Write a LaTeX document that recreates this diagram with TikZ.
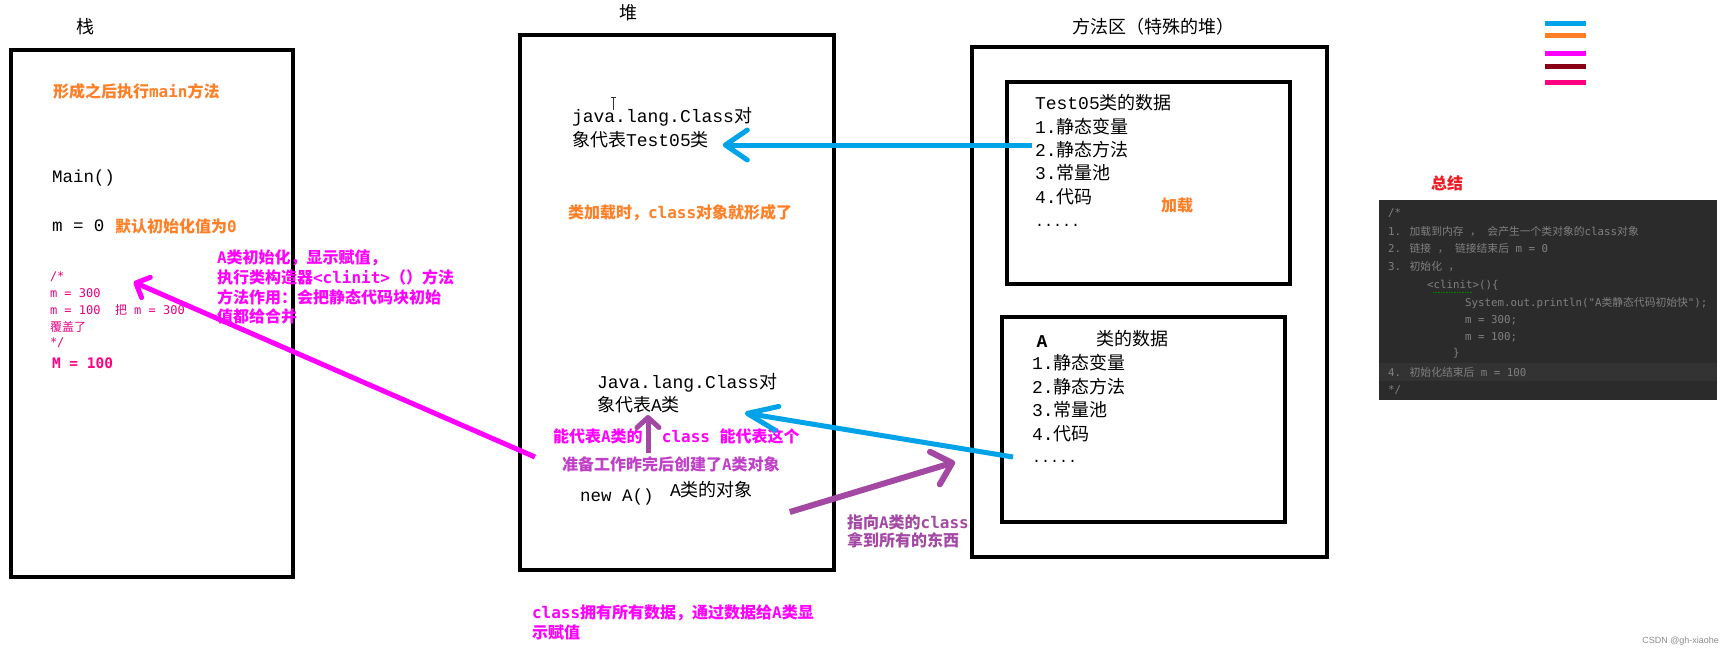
\documentclass[tikz,border=0pt]{standalone}
\usepackage{fontspec}
\usetikzlibrary{arrows.meta,calc}
\setmainfont{Liberation Mono}
\newfontfamily\cjkfont{Noto Sans CJK SC}
\newfontfamily\dvm{DejaVu Sans Mono}
\newfontfamily\lsans{Liberation Sans}
% automatic switch to the CJK font for CJK characters
\newXeTeXintercharclass\CJKcls
\newcount\cjkcc
\def\setcjkcls#1#2{\cjkcc=#1\relax\loop\XeTeXcharclass\cjkcc=\CJKcls\relax\ifnum\cjkcc<#2\relax\advance\cjkcc by 1\relax\repeat}
\setcjkcls{"3000}{"303F}
\setcjkcls{"4E00}{"9FFF}
\setcjkcls{"FF00}{"FFEF}
\XeTeXinterchartoks 0 \CJKcls = {\begingroup\cjkfont}
\XeTeXinterchartoks 4095 \CJKcls = {\begingroup\cjkfont}
\XeTeXinterchartoks \CJKcls 0 = {\endgroup}
\XeTeXinterchartoks \CJKcls 4095 = {\endgroup}
\XeTeXinterchartokenstate=1
\definecolor{cblue}{HTML}{00A2E8}
\definecolor{corange}{HTML}{FF7F27}
\definecolor{cmag}{HTML}{FF00FF}
\definecolor{cpink}{HTML}{E8007F}
\definecolor{cpinkb}{HTML}{FF0080}
\definecolor{cdred}{HTML}{880015}
\definecolor{cpurple}{HTML}{A349A4}
\definecolor{cviolet}{HTML}{C040C8}
\definecolor{cred}{HTML}{ED1C24}
\definecolor{ccode}{HTML}{808080}
\definecolor{ccodebg}{HTML}{2B2B2B}
\definecolor{ccodehl}{HTML}{333333}
\tikzset{
  box/.style={draw=black, line width=4pt},
  tx/.style={anchor=west, inner sep=0pt, outer sep=0pt},
  bk/.style={tx, font=\fontsize{18}{22}\selectfont},
  bkm/.style={tx, font=\fontsize{17.5}{21}\selectfont},
  cb/.style={tx, font=\dvm\bfseries\fontsize{16}{19}\selectfont},
  orangetxt/.style={cb, text=corange},
  magtxt/.style={cb, text=cmag},
  viotxt/.style={cb, text=cviolet},
  purtxt/.style={cb, text=cpurple},
  pk/.style={tx, text=cpink, font=\dvm\fontsize{12}{14}\selectfont},
  codetxt/.style={tx, text=ccode, font=\dvm\fontsize{10.8}{12}\selectfont},
  legendline/.style={line width=5pt},
}
\begin{document}
\begin{tikzpicture}[x=1pt,y=-1pt]
\useasboundingbox[fill=white] (0,0) rectangle (1733,659);

% ---------- stack ----------
\node[bk, anchor=center] (zhan) at (85,27) {栈};
\draw[box] (11,50) rectangle (293,577);
\node[orangetxt] (o1) at (53,91) {形成之后执行main方法};
\node[bkm] (mainf) at (52,178) {Main()};
\node[bkm] (m0) at (52,226) {m = 0};
\node[orangetxt] (o2) at (115,226) {默认初始化值为0};
\node[pk] (c1) at (50,277) {/*};
\node[pk] (c2) at (50,293) {m = 300};
\node[pk] (c3) at (50,310) {m = 100\ \ 把 m = 300};
\node[pk] (c4) at (50,327) {覆盖了};
\node[pk] (c5) at (50,343) {*/};
\node[tx, text=cpinkb, font=\dvm\bfseries\fontsize{14.5}{17}\selectfont] (c6) at (52,363) {M = 100};

\node[magtxt] (g1) at (217,258) {A类初始化，显示赋值，};
\node[magtxt] (g2) at (217,277.5) {执行类构造器<clinit>（）方法};
\node[magtxt] (g3) at (217,297) {方法作用：会把静态代码块初始};
\node[magtxt] (g4) at (217,316.5) {值都给合并};

% ---------- heap ----------
\node[bk, anchor=center] (dui) at (628,13) {堆};
\draw[box] (520,35) rectangle (834,570);
\draw[line width=0.8pt, black!80] (613,97) -- (613,110) (610.5,97) -- (615.5,97);
\node[bk] (ja1) at (572,117) {java.lang.Class对};
\node[bk] (ja2) at (572,140) {象代表Test05类};
\node[orangetxt] (o3) at (568,213) {类加载时，class对象就形成了};
\node[bk] (ja3) at (597,383) {Java.lang.Class对};
\node[bk] (ja4) at (597,405) {象代表A类};
\node[magtxt] (nd) at (553,436) {能代表A类的\ \ class 能代表这个};
\node[viotxt] (pr) at (562,464) {准备工作昨完后创建了A类对象};
\node[bkm] (newa) at (580,497) {new A()};
\node[bk] (obj) at (670,490) {A类的对象};
\node[magtxt] (b1) at (532,613) {class拥有所有数据，通过数据给A类显};
\node[magtxt] (b2) at (532,632) {示赋值};

% ---------- method area ----------
\node[bk] (ffq) at (1072,27) {方法区（特殊的堆）};
\draw[box] (972,47) rectangle (1327,557);
\draw[box] (1007,82) rectangle (1290,284);
\node[bk] (t1) at (1035,103) {Test05类的数据};
\node[bk] (t2) at (1035,127) {1.静态变量};
\node[bk] (t3) at (1035,150) {2.静态方法};
\node[bk] (t4) at (1035,173) {3.常量池};
\node[bk] (t5) at (1035,197) {4.代码};
\node[tx, font=\fontsize{15}{18}\selectfont] (t6) at (1035,225) {.....};
\node[orangetxt] (jz) at (1161,206) {加载};

\draw[box] (1002,317) rectangle (1285,522);
\node[bk, anchor=center, font=\bfseries\fontsize{18}{22}\selectfont] (aa) at (1042,342) {A};
\node[bk] (a0) at (1096,339) {类的数据};
\node[bk] (a1) at (1032,363) {1.静态变量};
\node[bk] (a2) at (1032,387) {2.静态方法};
\node[bk] (a3) at (1032,410) {3.常量池};
\node[bk] (a4) at (1032,434) {4.代码};
\node[tx, font=\fontsize{15}{18}\selectfont] (a5) at (1032,461) {.....};

\node[purtxt] (zx1) at (847,522) {指向A类的class};
\node[purtxt] (zx2) at (847,540) {拿到所有的东西};

% ---------- arrows ----------
\draw[cblue, line width=5pt, -{Straight Barb[length=22pt,width=30pt,round]}]
  ($(t3.west)+(-3,-5)$) -- ($(ja2.east)+(14,5)$);
\draw[cblue, line width=5pt, -{Straight Barb[length=30pt,width=24pt,round]}]
  ($(a5.west)+(-19,-4)$) -- ($(ja4.east)+(65,8)$);
\draw[cmag, line width=5pt, -{Straight Barb[length=11pt,width=22pt,round]}]
  ($(pr.west)+(-27,-7)$) -- ($(c2.east)+(33,-11)$);
\draw[cpurple, line width=5pt, -{Straight Barb[length=10pt,width=22pt,round]}]
  ($(pr.west)+(86,-11)$) -- ($(ja4.west)+(51,10)$);
\draw[cpurple, line width=6pt, -{Straight Barb[length=18pt,width=34pt,round]}]
  ($(obj.east)+(37,22)$) -- ($(zx1.west)+(108,-60)$);

% ---------- legend ----------
\draw[legendline, cblue] (1545,23) -- (1586,23);
\draw[legendline, corange] (1545,35) -- (1586,35);
\draw[legendline, cmag] (1545,53) -- (1586,53);
\draw[legendline, cdred] (1545,66) -- (1586,66);
\draw[legendline, cpinkb] (1545,82) -- (1586,82);

% ---------- summary ----------
\node[cb, anchor=center, text=cred] (zj) at (1447,183) {总结};
\fill[ccodebg] (1379,200) rectangle (1717,400);
\fill[ccodehl] (1379,363) rectangle (1717,381);
\node[codetxt] (k1) at (1388,213) {/*};
\node[codetxt] (k2) at (1388,232) {1. 加载到内存 ， 会产生一个类对象的class对象};
\node[codetxt] (k3) at (1388,249) {2. 链接 ， 链接结束后 m = 0};
\node[codetxt] (k4) at (1388,267) {3. 初始化 ，};
\node[codetxt] (k5) at (1427,285) {<clinit>()\{};
\draw[green!50!black, line width=0.6pt, densely dotted] (1433,292) -- (1472,292);
\node[codetxt] (k6) at (1465,303) {System.out.println("A类静态代码初始快");};
\node[codetxt] (k7) at (1465,320) {m = 300;};
\node[codetxt] (k8) at (1465,337) {m = 100;};
\node[codetxt] (k9) at (1453,353) {\}};
\node[codetxt] (k10) at (1388,372) {4. 初始化结束后 m = 100};
\node[codetxt] (k11) at (1388,390) {*/};

\node[tx, anchor=east, text=black!45, font=\lsans\fontsize{9}{11}\selectfont] (wm) at (1719,641) {CSDN @gh-xiaohe};
\end{tikzpicture}
\end{document}
